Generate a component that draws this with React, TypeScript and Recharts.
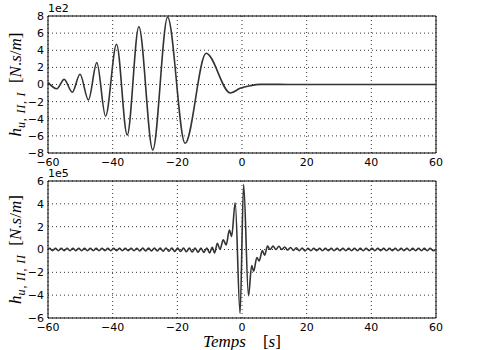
import React from "react";
import { LineChart, Line, XAxis, YAxis, CartesianGrid, ReferenceArea } from "recharts";

// Top panel: h_{u,II,I} (×1e2 N.s/m) vs time (s)
const tTop = [-60, -57.3, -55.0, -52.5, -50.1, -47.5, -44.9, -42.2, -38.8, -35.5, -31.9, -27.6, -23.0, -17.6, -11.1, -3.6, -0.6, 2.5, 5.6, 9, 14, 60];
const hTop = [0.25, -0.5, 0.6, -0.9, 1.2, -1.8, 2.55, -3.7, 4.7, -5.9, 6.75, -7.65, 7.85, -6.87, 3.65, -1.0, -0.45, -0.14, 0.02, 0.02, 0, 0];

// Bottom panel: h_{u,II,II} (×1e5 N.s/m) vs time (s)
const tBottom = [
  -60, -59.5, -58.6, -57.7, -56.8, -55.9, -55.0, -54.1, -53.2, -52.3, -51.4, -50.5, -49.6, -48.7, -47.8, -46.9,
  -46.0, -45.1, -44.2, -43.3, -42.4, -41.5, -40.6, -39.7, -38.8, -37.9, -37.0, -36.1, -35.2, -34.3, -33.4, -32.5,
  -31.6, -30.7, -29.8, -28.9, -28.0, -27.1, -26.2, -25.3, -24.4, -23.5, -22.6, -21.7, -20.8, -19.9, -19.0, -18.1,
  -17.2, -16.3, -15.4, -14.5, -13.6, -12.7, -11.8, -10.9, -10.0, -9.2, -8.5, -7.6, -6.8, -5.8, -4.9, -3.9, -3.2,
  -2.1, -0.6, 0.5, 2.0, 3.0, 3.6, 4.6, 5.3, 6.3, 7.0, 7.9, 8.7, 9.6, 10.5, 11.4, 12.3, 13.2, 14.1, 15.0, 15.9,
  16.8, 17.7, 18.6, 19.5, 20.4, 21.3, 22.2, 23.1, 24.0, 24.9, 25.8, 26.7, 27.6, 28.5, 29.4, 30.3, 31.2, 32.1,
  33.0, 33.9, 34.8, 35.7, 36.6, 37.5, 38.4, 39.3, 40.2, 41.1, 42.0, 42.9, 43.8, 44.7, 45.6, 46.5, 47.4, 48.3,
  49.2, 50.1, 51.0, 51.9, 52.8, 53.7, 54.6, 55.5, 56.4, 57.3, 58.2, 59.1, 60.0,
];
const hBottom = [
  0, 0.1, -0.1, 0.1, -0.1, 0.1, -0.1, 0.1, -0.1, 0.1, -0.1, 0.1, -0.1, 0.1, -0.1, 0.1,
  -0.1, 0.1, -0.1, 0.1, -0.1, 0.1, -0.1, 0.1, -0.1, 0.1, -0.1, 0.1, -0.1, 0.1, -0.1, 0.1,
  -0.12, 0.12, -0.12, 0.12, -0.12, 0.12, -0.13, 0.12, -0.14, 0.12, -0.15, 0.12, -0.16, 0.12, -0.18, 0.12,
  -0.2, 0.12, -0.22, 0.12, -0.24, 0.12, -0.25, 0.12, -0.3, 0.2, -0.3, 0.55, 0.0, 0.85, 0.4, 1.7, 1.15,
  4.1, -5.6, 5.7, -4.05, -1.4, -1.9, -0.7, -1.0, -0.1, -0.5, 0.3, 0.0, 0.3, 0.0, 0.28, 0.0, 0.22, -0.05, 0.18, -0.08,
  0.15, -0.1, 0.12, -0.12, 0.1, -0.1, 0.1, -0.1, 0.1, -0.1, 0.1, -0.1, 0.1, -0.1, 0.1, -0.1, 0.1, -0.1,
  0.1, -0.1, 0.1, -0.1, 0.1, -0.1, 0.1, -0.1, 0.1, -0.1, 0.1, -0.1, 0.1, -0.1, 0.1, -0.1, 0.1, -0.1,
  0.1, -0.1, 0.1, -0.1, 0.1, -0.1, 0.1, -0.1, 0.1, -0.1, 0.1, -0.1, 0,
];

const xTicks = [-60, -40, -20, 0, 20, 40, 60];
const yTicksTop = [-8, -6, -4, -2, 0, 2, 4, 6, 8];
const yTicksBottom = [-6, -4, -2, 0, 2, 4, 6];

const topData = tTop.map((t, i) => ({ t, h: hTop[i] }));
const bottomData = tBottom.map((t, i) => ({ t, h: hBottom[i] }));

const fmt = (v: number) => (v < 0 ? "\u2212" + Math.abs(v) : String(v));
const tickStyle = { fontSize: 11, fill: "#000", fontFamily: "DejaVu Sans, sans-serif" };
const serif = "Liberation Serif, DejaVu Serif, serif";

const makeYLabel = (sub: string, offset: string) => (props: any) => {
  const vb = props.viewBox || {};
  const cy = vb.y + vb.height / 2;
  return (
    <g>
      <text
        x={0}
        y={0}
        transform={`translate(21, ${cy}) rotate(-90)`}
        textAnchor="middle"
        fontFamily={serif}
        fontSize={17}
        fill="#000"
      >
        <tspan fontStyle="italic">h</tspan>
        <tspan fontStyle="italic" fontSize={12} dy={4} letterSpacing={0.8}>{sub}</tspan>
        <tspan dy={-4}>{"\u2002["}</tspan>
        <tspan fontStyle="italic">N</tspan>
        <tspan>.</tspan>
        <tspan fontStyle="italic">s</tspan>
        <tspan>/</tspan>
        <tspan fontStyle="italic">m</tspan>
        <tspan>]</tspan>
      </text>
      <text x={48} y={vb.y - 4} fontSize={11} fontFamily="DejaVu Sans, sans-serif" fill="#000">
        {offset}
      </text>
    </g>
  );
};

const XLabel = (props: any) => {
  const vb = props.viewBox || {};
  return (
    <text x={242} y={vb.y + 29} textAnchor="middle" fontFamily={serif} fontSize={17} fill="#000">
      <tspan fontStyle="italic">Temps</tspan>
      <tspan>{"\u2003["}</tspan>
      <tspan fontStyle="italic">s</tspan>
      <tspan>]</tspan>
    </text>
  );
};

export default function App() {
  return (
    <div style={{ position: "absolute", left: 0, top: 0, width: 487, height: 350, background: "#fff" }}>
      <div style={{ position: "absolute", left: 0, top: 0 }}>
        <LineChart width={487} height={170} data={topData} margin={{ top: 16, right: 51, bottom: 0, left: 8 }}>
          <CartesianGrid stroke="#000" strokeDasharray="1 3" strokeWidth={0.8} />
          <XAxis
            dataKey="t"
            type="number"
            domain={[-60, 60]}
            ticks={xTicks}
            tickFormatter={fmt}
            height={17}
            tick={tickStyle}
            tickLine={false}
            axisLine={false}
            tickSize={0}
            tickMargin={5}
            interval={0}
          />
          <YAxis
            type="number"
            domain={[-8, 8]}
            ticks={yTicksTop}
            tickFormatter={fmt}
            width={40}
            tick={tickStyle}
            tickLine={false}
            axisLine={false}
            tickSize={0}
            tickMargin={4}
            interval={0}
            label={{ content: makeYLabel("u, II, I", "1e2") }}
          />
          <ReferenceArea x1={-60} x2={60} y1={-8} y2={8} fill="none" fillOpacity={0} stroke="#000" strokeWidth={1} />
          <Line type="monotone" dataKey="h" stroke="#333" strokeWidth={1.6} dot={false} isAnimationActive={false} />
        </LineChart>
      </div>
      <div style={{ position: "absolute", left: 0, top: 160 }}>
        <LineChart width={487} height={190} data={bottomData} margin={{ top: 21, right: 51, bottom: 0, left: 8 }}>
          <CartesianGrid stroke="#000" strokeDasharray="1 3" strokeWidth={0.8} />
          <XAxis
            dataKey="t"
            type="number"
            domain={[-60, 60]}
            ticks={xTicks}
            tickFormatter={fmt}
            height={32}
            tick={tickStyle}
            tickLine={false}
            axisLine={false}
            tickSize={0}
            tickMargin={5}
            interval={0}
            label={{ content: XLabel }}
          />
          <YAxis
            type="number"
            domain={[-6, 6]}
            ticks={yTicksBottom}
            tickFormatter={fmt}
            width={40}
            tick={tickStyle}
            tickLine={false}
            axisLine={false}
            tickSize={0}
            tickMargin={4}
            interval={0}
            label={{ content: makeYLabel("u, II, II", "1e5") }}
          />
          <ReferenceArea x1={-60} x2={60} y1={-6} y2={6} fill="none" fillOpacity={0} stroke="#000" strokeWidth={1} />
          <Line type="monotone" dataKey="h" stroke="#333" strokeWidth={1.6} dot={false} isAnimationActive={false} />
        </LineChart>
      </div>
    </div>
  );
}
